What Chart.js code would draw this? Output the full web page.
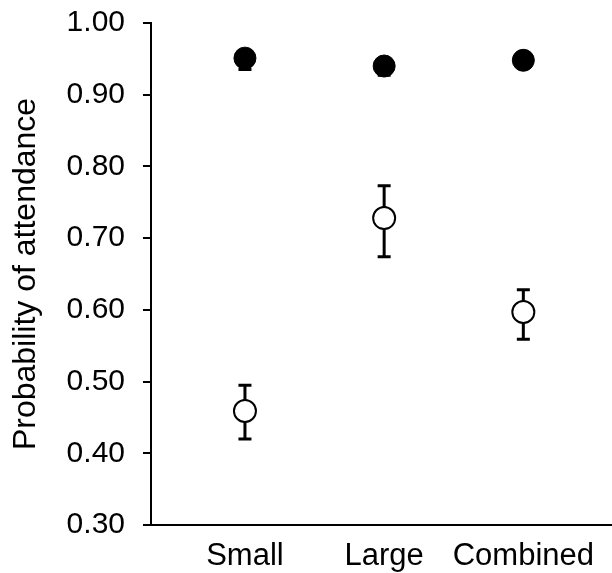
<!DOCTYPE html>
<html>
<head>
<meta charset="utf-8">
<script src="https://cdn.jsdelivr.net/npm/chart.js@4"></script>
<style>
  body { margin: 0; background: #fff; }
</style>
</head>
<body>
<canvas id="chart" width="612" height="573"></canvas>
<script>
const categories = ['Small', 'Large', 'Combined'];
const yTicks = [0.30, 0.40, 0.50, 0.60, 0.70, 0.80, 0.90, 1.00];

// filled circles
const filledMean = [0.951, 0.940, 0.948];
const filledLow = [0.935, 0.927, 0.938];
const filledHigh = [0.962, 0.950, 0.958];

// open circles
const openMean = [0.459, 0.728, 0.597];
const openLow = [0.420, 0.674, 0.559];
const openHigh = [0.495, 0.773, 0.628];

const FONT = 'Liberation Sans, Arial, sans-serif';

function toPoints(arr) {
  return arr.map((v, i) => ({ x: i + 1, y: v }));
}

const errorBars = {
  id: 'errorBars',
  beforeDatasetsDraw(chart) {
    const ctx = chart.ctx;
    const xs = chart.scales.x, ys = chart.scales.y;
    chart.data.datasets.forEach(ds => {
      ds.low.forEach((lo, i) => {
        const x = xs.getPixelForValue(i + 1);
        const yl = ys.getPixelForValue(lo);
        const yh = ys.getPixelForValue(ds.high[i]);
        ctx.save();
        ctx.strokeStyle = '#000';
        ctx.lineWidth = 3;
        ctx.beginPath();
        ctx.moveTo(x, yl); ctx.lineTo(x, yh);
        ctx.moveTo(x - 6.5, yl); ctx.lineTo(x + 6.5, yl);
        ctx.moveTo(x - 6.5, yh); ctx.lineTo(x + 6.5, yh);
        ctx.stroke();
        ctx.restore();
      });
    });
  }
};

new Chart(document.getElementById('chart'), {
  type: 'scatter',
  data: {
    datasets: [
      {
        data: toPoints(openMean),
        low: openLow, high: openHigh,
        pointRadius: 11,
        pointBackgroundColor: '#fff',
        pointBorderColor: '#000',
        pointBorderWidth: 2
      },
      {
        data: toPoints(filledMean),
        low: filledLow, high: filledHigh,
        pointRadius: 11,
        pointBackgroundColor: '#000',
        pointBorderColor: '#000',
        pointBorderWidth: 1
      }
    ]
  },
  plugins: [errorBars],
  options: {
    responsive: false,
    animation: false,
    layout: { autoPadding: false, padding: { top: 23, right: 0, left: 0, bottom: 0 } },
    plugins: {
      legend: { display: false },
      tooltip: { enabled: false }
    },
    scales: {
      x: {
        type: 'linear',
        min: 0.325,
        max: 3.637,
        afterBuildTicks: s => { s.ticks = categories.map((c, i) => ({ value: i + 1 })); },
        afterFit: s => { s.height = 48; s.paddingLeft = 0; s.paddingRight = 0; },
        grid: { display: false, drawTicks: false },
        border: { display: true, color: '#000', width: 2 },
        ticks: {
          color: '#000',
          padding: 13,
          maxRotation: 0,
          autoSkip: false,
          font: { family: FONT, size: 31 },
          callback: v => categories[v - 1]
        }
      },
      y: {
        min: 0.3,
        max: 1.0,
        afterBuildTicks: s => { s.ticks = yTicks.map(v => ({ value: v })); },
        afterFit: s => { s.width = 151; s.paddingTop = 0; s.paddingBottom = 0; },
        grid: { drawOnChartArea: false, drawTicks: true, tickLength: 8, color: '#000', lineWidth: 2 },
        border: { display: true, color: '#000', width: 2 },
        title: {
          display: true,
          text: 'Probability of attendance',
          color: '#000',
          font: { family: FONT, size: 32 },
          padding: { top: 7, bottom: 0 }
        },
        ticks: {
          color: '#000',
          padding: 18,
          font: { family: FONT, size: 30 },
          callback: v => v.toFixed(2)
        }
      }
    }
  }
});
</script>
</body>
</html>
